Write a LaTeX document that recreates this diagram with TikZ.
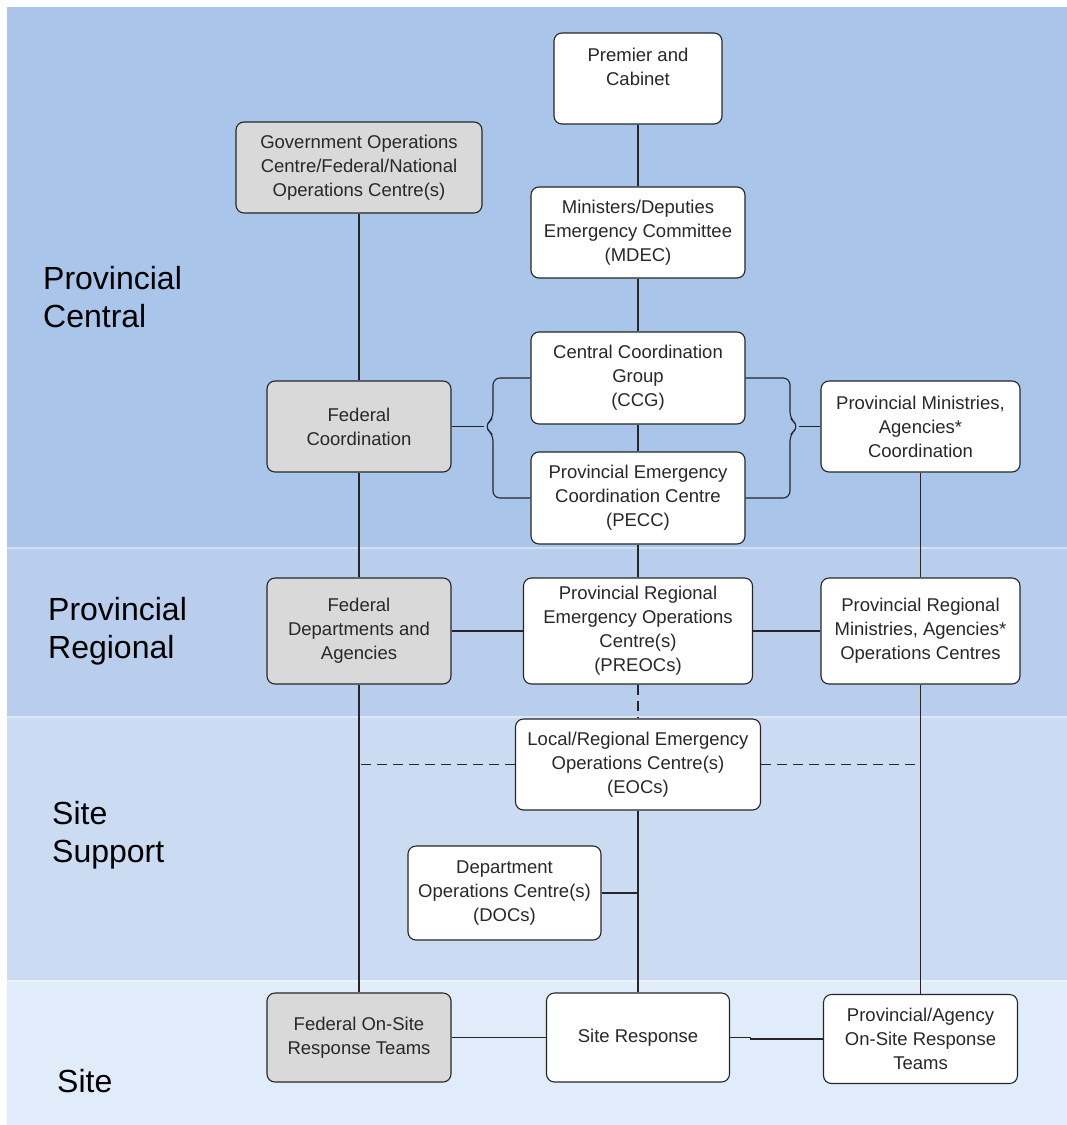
\documentclass[tikz,border=0pt]{standalone}
\usepackage{fontspec}
\setmainfont{Liberation Sans}
\usepackage{xcolor}
\usepackage{tikz}
\definecolor{bandcentral}{RGB}{169,197,234}
\definecolor{bandregional}{RGB}{184,206,236}
\definecolor{bandsupport}{RGB}{203,220,242}
\definecolor{bandsite}{RGB}{224,236,249}
\definecolor{fedgray}{RGB}{217,217,217}
\definecolor{boxline}{RGB}{38,38,38}
\definecolor{boxtext}{RGB}{40,40,40}

\begin{document}
\begin{tikzpicture}[x=1pt,y=-1pt,
		box/.style={draw=boxline, fill=white, line width=1.1pt, rounded corners=8pt, align=center, inner sep=2pt, text=boxtext, font=\fontsize{18.5}{24}\selectfont},
		fedbox/.style={box, fill=fedgray},
		level/.style={anchor=west, align=left, inner sep=0pt, font=\fontsize{32}{38}\selectfont},
		link/.style={draw=boxline, line width=1.1pt},
		dashlink/.style={link, dash pattern=on 10pt off 6pt}]
					
					\useasboundingbox (0,0) rectangle (1067,1125);
					
					\fill [bandcentral] (7,7) rectangle (1067,547);
					\fill [bandregional] (7,547) rectangle (1067,716);
					\fill [bandsupport] (7,716) rectangle (1067,980);
					\fill [bandsite] (7,980) rectangle (1067,1125);
					\draw [white, opacity=0.35, line width=1.2pt] (7,548) -- (1067,548) (7,717) -- (1067,717) (7,981) -- (1067,981);
					
					\node [level] (lcentral) at (43,297) {Provincial\\Central};
					\node [level] (lregional) at (48,631) {Provincial\\Regional};
					\node [level] (lsupport) at (52,835) {Site\\Support};
					\node [level] (lsite) at (57,1081) {Site};
					
					\node [box, minimum width=168, minimum height=91] (premier) at (638,78.5) {Premier and\\Cabinet\\\mbox{}};
					\node [fedbox, minimum width=246, minimum height=91] (goc) at (359,167.5) {Government Operations\\Centre/Federal/National\\Operations Centre(s)};
					\node [box, minimum width=214, minimum height=91] (mdec) at (638,232.5) {Ministers/Deputies\\Emergency Committee\\(MDEC)};
					\node [box, minimum width=214, minimum height=92] (ccg) at (638,378) {Central Coordination\\Group\\(CCG)};
					\node [box, minimum width=214, minimum height=92] (pecc) at (638,498) {Provincial Emergency\\Coordination Centre\\(PECC)};
					\node [fedbox, minimum width=184, minimum height=91] (fedcoord) at (359,426.5) {Federal\\Coordination};
					\node [box, minimum width=199, minimum height=91] (provcoord) at (920.5,426.5) {Provincial Ministries,\\Agencies*\\Coordination};
					
					\node [fedbox, minimum width=184, minimum height=106] (feddept) at (359,631) {Federal\\Departments and\\Agencies};
					\node [box, minimum width=229, minimum height=106] (preoc) at (638,631) {Provincial Regional\\Emergency Operations\\Centre(s)\\(PREOCs)};
					\node [box, minimum width=199, minimum height=106] (provreg) at (920.5,631) {Provincial Regional\\Ministries, Agencies*\\Operations Centres};
					
					\node [box, minimum width=245, minimum height=91] (eoc) at (638,764.5) {Local/Regional Emergency\\Operations Centre(s)\\(EOCs)};
					\node [box, minimum width=193, minimum height=94] (doc) at (504.5,893) {Department\\Operations Centre(s)\\(DOCs)};
					
					\node [fedbox, minimum width=184, minimum height=89] (fedsite) at (359,1037.5) {Federal On-Site\\Response Teams};
					\node [box, minimum width=183, minimum height=89] (siteresp) at (638,1037.5) {Site Response};
					\node [box, minimum width=194, minimum height=89] (provsite) at (920.5,1039) {Provincial/Agency\\On-Site Response\\Teams};
					
					\draw [link] (premier) -- (mdec);
					\draw [link] (mdec) -- (ccg);
					\draw [link] (ccg) -- (pecc);
					\draw [link] (pecc) -- (preoc);
					\draw [dashlink] (preoc) -- (eoc);
					\draw [link] (eoc) -- (siteresp);
					\draw [link] (doc.east) -- (doc.east -| eoc.south);
					
					\draw [link] (goc) -- (fedcoord);
					\draw [link] (fedcoord) -- (feddept);
					\draw [link] (feddept) -- (fedsite);
					\draw [link] (provcoord) -- (provreg);
					\draw [link] (provreg) -- (provsite);
					
					\draw [link] (feddept) -- (preoc);
					\draw [link] (preoc) -- (provreg);
					\draw [link] (fedsite) -- (siteresp);
					\draw [link] (siteresp.east) -- ++(20,0) |- (provsite.west);
					
					\draw [dashlink] (eoc.west) -- (eoc.west -| feddept.south);
					\draw [dashlink] (eoc.east) -- (eoc.east -| provreg.south);
					
					\coordinate (ltip) at (484,426.5);
					\coordinate (rtip) at (799,426.5);
					\draw [link] (fedcoord.east) -- (ltip);
					\draw [link, rounded corners=7pt] (ccg.west) -- (493,378) -- (493,419) -- (ltip) -- (493,434) -- (493,498) -- (pecc.west);
					\draw [link, rounded corners=7pt] (ccg.east) -- (790,378) -- (790,419) -- (rtip) -- (790,434) -- (790,498) -- (pecc.east);
					\draw [link] (rtip) -- (provcoord.west);
					
				\end{tikzpicture}
\end{document}
